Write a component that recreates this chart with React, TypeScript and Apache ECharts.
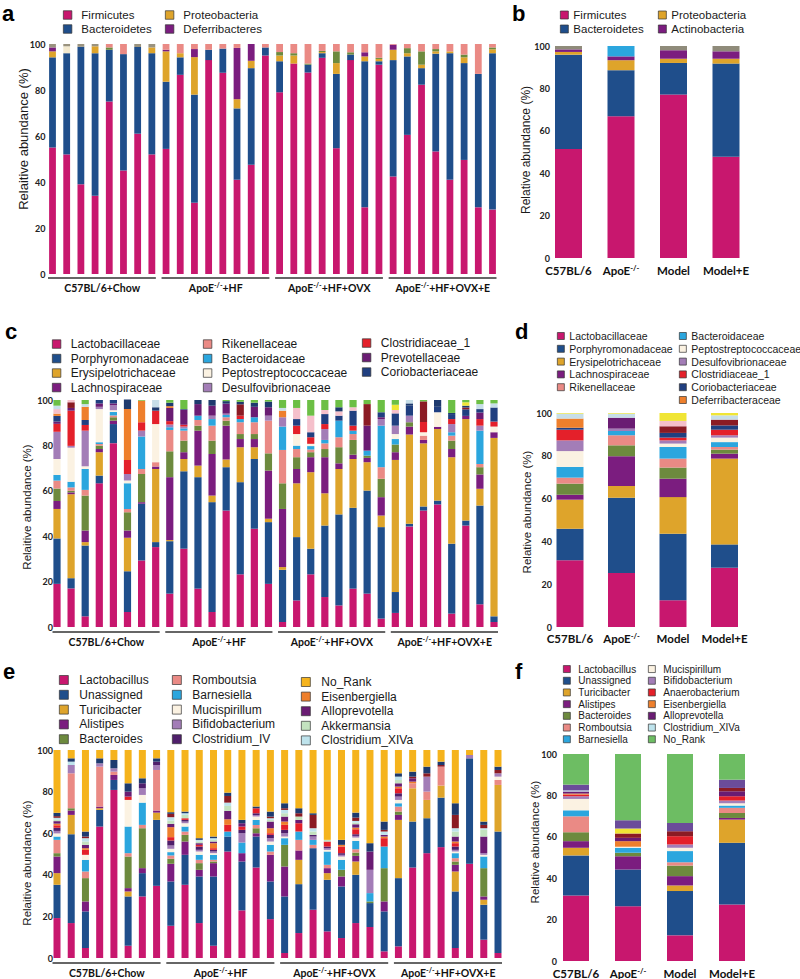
import { useEffect, useRef } from 'react';
import * as echarts from 'echarts';

// ---------- categories ----------
const GROUPS = ['C57BL/6+Chow', 'ApoE-/-+HF', 'ApoE-/-+HF+OVX', 'ApoE-/-+HF+OVX+E'];
const SAMPLES = [
  'C1', 'C2', 'C3', 'C4', 'C5', 'C6', 'C7', 'C8',
  'H1', 'H2', 'H3', 'H4', 'H5', 'H6', 'H7', 'H8',
  'O1', 'O2', 'O3', 'O4', 'O5', 'O6', 'O7', 'O8',
  'E1', 'E2', 'E3', 'E4', 'E5', 'E6', 'E7', 'E8',
];
const TREAT = ['C57BL/6', 'ApoE-/-', 'Model', 'Model+E'];

// ---------- panel a: phylum, per sample ----------
const phylumA = ['Firmicutes', 'Bacteroidetes', 'Proteobacteria', 'Deferribacteres', 'a_olive', 'a_salmon', 'a_beige', 'a_gray'];
const aChow = [
  [55, 39.2, 2.6, 1.7, 0, 0, 0, 1.5],
  [52, 44, 0, 0, 0, 0, 3, 1],
  [39, 59.8, 0, 0, 0, 0, 0, 1.2],
  [34, 62, 3, 0, 0, 0, 0, 1],
  [75, 22.5, 0, 0, 1, 1.5, 0, 0],
  [45, 50.6, 0, 0, 0, 4.4, 0, 0],
  [61, 37.7, 0, 0, 0, 0, 0, 1.3],
  [52, 44, 2.5, 0, 0, 0, 0, 1.5],
];
const aHF = [
  [54.4, 29.2, 13.2, 0.7, 0, 2.5, 0, 0],
  [86.6, 7.6, 1.8, 0, 0, 4, 0, 0],
  [31, 47, 16.3, 3.5, 0, 2.2, 0, 0],
  [93, 4.5, 0, 0, 0, 2.5, 0, 0],
  [87.5, 10.5, 0, 0, 0, 2, 0, 0],
  [41, 31, 4, 22.3, 0, 1.7, 0, 0],
  [47.5, 42, 3.2, 7.3, 0, 0, 0, 0],
  [95, 3.5, 0, 0, 0, 1.5, 0, 0],
];
const aOVX = [
  [79, 13.5, 2.5, 0, 1.5, 3.5, 0, 0],
  [91.5, 0, 3.5, 0, 1, 4, 0, 0],
  [87.6, 3.4, 0, 0, 0.5, 8.5, 0, 0],
  [94, 2, 0.5, 0, 0.5, 3, 0, 0],
  [54.7, 32.3, 4.7, 0, 5.1, 3.2, 0, 0],
  [93, 2.4, 0, 0, 1, 3.6, 0, 0],
  [29, 63.5, 2.1, 1.8, 0, 3.6, 0, 0],
  [91, 1.5, 1, 0, 0.5, 6, 0, 0],
];
const aOVXE = [
  [42.4, 50.6, 4.5, 2.2, 0, 0.3, 0, 0],
  [60.5, 34.1, 1.4, 0, 2.2, 1.8, 0, 0],
  [82.3, 7.2, 1.5, 0, 5.8, 3.2, 0, 0],
  [53.3, 42.5, 1, 0, 1, 2.2, 0, 0],
  [41, 55, 0.8, 0, 0, 3.2, 0, 0],
  [49.6, 42.1, 2.5, 0, 1.2, 4.6, 0, 0],
  [29, 58, 0, 0, 0, 13, 0, 0],
  [28, 68, 1.7, 0, 0.8, 1.5, 0, 0],
];

// ---------- panel b: phylum, per treatment ----------
const phylumB = ['Firmicutes', 'Bacteroidetes', 'Proteobacteria', 'Actinobacteria', 'b_lightblue', 'b_gray'];
const bRows = [
  [51.4, 44.5, 1.3, 1.2, 0, 1.6],
  [66.9, 21.7, 4.7, 1.8, 4.9, 0],
  [77.1, 14.9, 2, 4, 0, 2],
  [47.8, 43.9, 2.3, 3.5, 0, 2.5],
];

// ---------- panel c/d: family ----------
const famNames = [
  'Lactobacillaceae', 'Porphyromonadaceae', 'Erysipelotrichaceae', 'Lachnospiraceae', 'f_olive',
  'Rikenellaceae', 'Bacteroidaceae', 'Peptostreptococcaceae', 'Desulfovibrionaceae', 'Clostridiaceae_1',
  'Prevotellaceae', 'Coriobacteriaceae', 'Deferribacteraceae', 'f_darkred', 'f_pink',
  'f_navy', 'f_lightgray', 'f_yellow', 'f_green',
];
const cChow = [
  [19, 20, 13, 3.5, 5.5, 3.5, 2.5, 7, 12, 3.5, 1, 2.5, 1, 0, 2, 0, 1.5, 0, 2.5],
  [17, 4.5, 37, 0.8, 0.7, 1.5, 2.5, 15, 0.8, 15.5, 1.2, 0, 0, 2.5, 1, 0, 0, 0, 0],
  [4.7, 31.2, 1.5, 5.1, 15.4, 2.5, 9.2, 1.2, 15.7, 2.5, 0, 2.2, 5.8, 0, 0, 0, 1.2, 0, 1.8],
  [63.3, 3.4, 10.3, 1.4, 1.5, 0.7, 0.8, 14.6, 1, 0, 1.5, 1.5, 0, 0, 0, 0, 0, 0, 0],
  [81, 8.4, 0, 1.5, 1.5, 0.8, 1.5, 0.8, 2.2, 0, 0.8, 1.5, 0, 0, 0, 0, 0, 0, 0],
  [6.6, 18, 14.7, 3.2, 8.1, 1.4, 11.3, 1.2, 2.9, 6.2, 0, 0, 22.4, 0, 0, 4.2, 0, 0, 0],
  [29.3, 25, 0, 0.7, 12.4, 2.2, 14.3, 0, 2.6, 3.7, 0, 0, 9.5, 0, 0, 0, 0, 0, 0.3],
  [35.2, 2.2, 32.2, 1.1, 0, 1.9, 0, 16.8, 0, 5.9, 0, 0, 0, 0, 0, 1.5, 3.2, 0, 0],
];
const cHF = [
  [14.7, 23.1, 0.5, 27.7, 11.4, 9.4, 1.2, 0, 1.2, 1.5, 5.8, 0, 0.8, 0, 0, 1.5, 0, 0, 1.2],
  [34.5, 34.1, 5.4, 3, 5.1, 4.4, 1, 0, 0.8, 0.8, 6.6, 0, 0, 0, 0, 0.3, 0, 0, 4],
  [16.9, 49.1, 5.1, 15.4, 2.2, 2.5, 1.9, 0, 0, 0, 5.1, 0, 0, 0, 0, 1.8, 0, 0, 0],
  [6.6, 48.4, 2.9, 18.3, 5.9, 6.6, 2.9, 0, 1.5, 0, 4.4, 0, 0, 0, 0, 2.5, 0, 0, 0],
  [51.3, 19.1, 3.4, 14.9, 2.2, 1.5, 1, 0, 0.6, 0, 4.4, 0, 0, 0, 0, 1.1, 0, 0, 0.5],
  [23.2, 40.6, 15.4, 3.6, 2.2, 5.2, 1.4, 0, 0, 1.5, 0, 0, 0, 5, 0, 1.1, 0, 0, 0.8],
  [43.3, 30.7, 5.2, 3.6, 2.2, 5.2, 2.2, 0, 0, 0, 4.6, 0, 0, 0, 0, 1.8, 0, 0, 1.2],
  [19, 27.2, 1.5, 21.2, 7.6, 14.4, 0, 0, 2.2, 0, 3.7, 0, 0, 0, 0, 2.5, 0, 0, 0.7],
];
const cOVX = [
  [2.2, 23, 1.2, 25.6, 11.3, 14.7, 10.3, 0, 4.1, 0, 0, 0, 2.9, 0, 0, 0, 1.2, 0, 3.5],
  [11.7, 27.9, 23.7, 6.3, 5.2, 3.6, 1.5, 5.1, 0, 3.7, 0, 2.9, 0, 0, 4.9, 0, 0, 0, 3.5],
  [23.2, 11.3, 33.7, 6.6, 2.2, 1.2, 1.5, 1, 0, 2.9, 0, 2.2, 0, 0, 7.3, 0, 0, 0, 6.9],
  [13.2, 31.5, 14.2, 15.9, 3.6, 2.5, 1.5, 0, 4.8, 2.2, 0, 4.4, 0, 0, 1.8, 0, 0, 0, 4.4],
  [9.5, 40.1, 20, 2.5, 7.1, 4.4, 7.3, 0, 0, 0, 0, 2.2, 0, 0, 1.9, 1.8, 0, 0, 3.2],
  [16.9, 35.6, 21.5, 1.9, 6.5, 2.6, 1.5, 0, 0, 2.2, 0, 6.6, 0, 0, 1.5, 0, 0, 0, 3.2],
  [14.7, 45.4, 12.5, 1.9, 1, 0, 2.2, 0, 0, 0, 11, 0, 0, 9.5, 0, 0, 0, 0, 1.8],
  [3.7, 40.3, 5.1, 8.1, 8.1, 5.1, 18.3, 0, 2.9, 0, 0.8, 2.2, 0, 0, 0, 0, 0, 0, 5.4],
];
const cOVXE = [
  [6.2, 9.2, 58.2, 3.4, 3.4, 0, 2.4, 2.2, 3.7, 0, 0, 5.4, 0, 0, 1.5, 0, 0, 2.3, 2.1],
  [44.3, 1.2, 39.3, 3.5, 1.9, 0, 0, 0, 2.9, 0, 0, 4.4, 0, 0, 0, 1, 1.5, 0, 0],
  [51.3, 1.8, 27.8, 1.5, 0, 1.9, 0, 1.5, 0, 4.5, 0, 0, 0, 9.1, 0, 0, 0, 0, 0.6],
  [54, 1.7, 31.5, 1, 0, 0, 0, 6.4, 0, 0, 0, 2.4, 0, 0, 0, 3, 0, 0, 0],
  [5.9, 30.8, 38.1, 3.6, 3.7, 2.2, 1.5, 0, 3.6, 2.2, 0, 2.2, 0, 0, 0, 0.5, 0, 0, 5.7],
  [44.7, 2.2, 44.7, 1.4, 0, 0, 0, 0, 0, 0, 0, 2.9, 0, 0.8, 0, 0.8, 0, 1.5, 1],
  [10, 43.5, 7.4, 6.3, 3.2, 1.4, 14.7, 0, 2.2, 2.9, 2.9, 1.5, 0, 0, 0, 0, 2.2, 0, 1.8],
  [2.2, 2.5, 78.6, 2.5, 0, 0, 0, 2.5, 0, 2.2, 0, 6.2, 0, 0, 0, 0, 1.8, 0, 1.5],
];
const dRows = [
  [31.2, 14.7, 13.6, 2.3, 5.2, 2.8, 5, 7.4, 5, 5, 0, 0.9, 4.3, 0, 0, 0, 2.3, 0.3, 0],
  [25.2, 35.2, 5.5, 13.9, 5.1, 4.7, 2, 0, 1.1, 0, 5.1, 0, 0, 0, 0, 0, 1.9, 0.3, 0],
  [12.5, 31.1, 17.1, 8.6, 5.2, 4.2, 5.4, 1.6, 1.5, 1.3, 0, 2.2, 0, 3.1, 2.5, 0, 0, 3.7, 0],
  [27.7, 10.9, 40.1, 2.3, 1.9, 1.2, 2.3, 2.1, 1.1, 2.6, 0, 2, 0, 2.7, 0, 0, 2, 1.1, 0],
];

// ---------- panel e: genus, per sample ----------
const genusE = [
  'Lactobacillus', 'Unassigned', 'Turicibacter', 'Alistipes', 'Bacteroides', 'Romboutsia',
  'Barnesiella', 'Mucispirillum', 'Bifidobacterium', 'Clostridium_IV', 'e_anaero', 'Eisenbergiella',
  'Alloprevotella', 'Akkermansia', 'Clostridium_XIVa', 'e_darkred', 'e_navy', 'No_Rank',
];
const eChow = [
  [19.2, 16, 5.6, 8, 1.6, 6.4, 1.6, 1.5, 1.2, 1.5, 1.2, 0.8, 1.2, 0.8, 0.8, 0.8, 1.6, 30.2],
  [16.8, 42.7, 9.3, 2.1, 1.1, 16.8, 0, 0, 4, 0, 0, 0, 0, 0, 1.6, 0, 1.6, 4],
  [4.8, 17.6, 0, 4.8, 11.2, 3.2, 5.6, 2.4, 0, 0, 2.4, 0.8, 1.6, 1.6, 1.6, 0.8, 2.4, 39.2],
  [63.2, 8, 0.8, 0.8, 0, 19.2, 0, 0, 1.6, 0, 0, 0, 0, 0, 0, 0, 2.4, 4],
  [80.8, 4.8, 0, 2.4, 0, 1.6, 0, 0, 1.6, 0, 0, 0, 0, 0, 0, 0, 4, 4.8],
  [5.9, 23.7, 2.4, 1.6, 15.2, 1.6, 12.8, 12.8, 0, 0, 1.6, 0, 2.4, 0, 0, 0, 4, 16],
  [29.6, 11.2, 0, 2.4, 19.2, 1.6, 10.7, 3.7, 3.2, 2.4, 0, 0, 0, 0, 0, 0, 2.4, 13.6],
  [34.7, 31.7, 3.5, 1, 0, 19.5, 0, 0, 2.4, 1.6, 0, 0, 0, 0, 0, 0, 1.6, 4],
];
const eHF = [
  [15.5, 21.3, 0, 8.5, 2.4, 1.6, 1.6, 1.6, 1.6, 2.4, 1.6, 4.8, 1.6, 1.6, 1.6, 1.6, 0.8, 29.9],
  [35.2, 14.4, 0, 6.4, 3.2, 1.6, 2.4, 1.6, 0.8, 0.8, 0.8, 0, 0, 1.6, 0.8, 0, 0.8, 29.6],
  [16.8, 22.4, 0, 3.2, 3.2, 1.6, 2.4, 1.6, 0.8, 1.6, 0.8, 0, 0.8, 0.8, 0.8, 0, 0.8, 42.4],
  [5.9, 33.3, 0, 6.4, 0.8, 0.8, 2.4, 0.8, 0.8, 0.8, 0.8, 2.4, 0.8, 0.8, 0.8, 0, 0.8, 41.6],
  [51.2, 7.2, 0, 0, 0, 0, 2.4, 0, 0, 0, 3.2, 2.7, 4, 2.4, 1.6, 3.2, 1.6, 20.5],
  [22.9, 23.5, 0, 4, 0, 0, 5.1, 0, 4.5, 1.6, 1.6, 0, 1.6, 0, 0, 0, 1.6, 33.6],
  [43.5, 14.9, 0, 1.6, 2.4, 1.6, 2.4, 1.6, 0.8, 0.8, 2.4, 0, 0, 0, 0, 0, 0.8, 27.2],
  [18.7, 18.1, 0, 12.8, 0, 1.6, 3.2, 1.6, 1.6, 1.6, 0.8, 2.4, 3.2, 0.8, 0.8, 0.8, 2.4, 29.6],
];
const eOVX = [
  [2.4, 27.2, 0, 14.4, 10.4, 0, 3.2, 0.8, 1.6, 1.6, 2.4, 1.6, 2.4, 1.6, 1.6, 0.8, 2.4, 25.6],
  [12, 23.5, 11.7, 4.5, 0, 5.1, 4, 0, 0, 0, 4, 0, 1.6, 1.6, 0, 1.6, 2.4, 28],
  [23.2, 29.6, 0, 0, 0, 1.6, 2.4, 0, 1.6, 0.8, 0, 0, 0, 1.6, 1.6, 6.4, 0.8, 30.4],
  [12.8, 24.8, 3.2, 2.4, 0, 1.6, 6.4, 0.8, 0.8, 0.8, 2.4, 0, 0, 0.8, 0, 0, 0, 43.2],
  [9.6, 24.8, 0, 4.8, 3.2, 0, 4.8, 1.6, 0.8, 0.8, 3.2, 0.8, 0, 0, 0, 0, 2.4, 43.2],
  [16.8, 23.2, 6.4, 2.7, 1.6, 1.6, 4, 1.6, 0.8, 0.8, 2.4, 0.8, 1.6, 0.8, 0.8, 1.6, 2.4, 30.1],
  [14.9, 11.5, 0, 0, 0.8, 0, 4, 0, 11.2, 0, 0, 0, 8.8, 0, 0, 0, 4, 44.8],
  [3.2, 19.2, 0, 4.8, 16, 0, 10.4, 0, 0, 0, 4, 0.8, 0.8, 0, 1.6, 0.8, 4, 34.4],
];
const eOVXE = [
  [5.6, 32.8, 28, 2.4, 1.6, 2.4, 1.6, 1.6, 1.6, 1.6, 2.4, 0.8, 1.6, 1.6, 1.6, 0, 1.6, 11.2],
  [43.5, 22.1, 16, 0, 0, 2.4, 0, 0, 0, 0, 0, 0.8, 1.6, 0, 0, 0.8, 2.4, 10.4],
  [50.4, 16.8, 8.8, 0, 0, 4, 0, 0, 7.2, 0, 0, 0, 0, 0, 0, 1.6, 3.2, 8],
  [53.3, 23.8, 5.8, 0, 0, 9.1, 0, 0, 0, 0, 0, 0, 0, 0, 0, 0.8, 1.6, 5.6],
  [4.8, 27.2, 9.6, 3.2, 1.6, 1.6, 2.4, 0.8, 0.8, 1.6, 1.6, 0.8, 2.4, 2.4, 1.6, 6.4, 5.6, 25.6],
  [45.3, 50.7, 0, 0, 0, 0, 0, 0, 1.6, 0, 0, 0, 0, 0, 0, 0, 0, 2.4],
  [8.8, 16.8, 2.4, 1.6, 13.6, 0, 5.6, 0.8, 0.8, 0, 0, 0, 8, 3.2, 0.8, 1.6, 1.6, 34.4],
  [2.4, 58.4, 22.4, 0, 0, 2.4, 0, 1.6, 1.6, 0, 0, 0, 0, 0, 0, 1.6, 1.6, 8],
];

// ---------- panel f: genus, per treatment ----------
const genusF = [
  'Lactobacillus', 'Unassigned', 'Turicibacter', 'Alistipes', 'Bacteroides', 'Romboutsia',
  'Barnesiella', 'Mucispirillum', 'Bifidobacterium', 'Anaerobacterium', 'Eisenbergiella', 'Alloprevotella',
  'Clostridium_XIVa', 'g_darkred', 'g_navy', 'g_yellow', 'g_purple', 'No_Rank',
];
const fRows = [
  [31.7, 19.3, 3.7, 3.2, 4.3, 7.7, 2.9, 5.5, 1.3, 0.8, 0.5, 1, 0.5, 0, 0, 0, 2.8, 14.8],
  [26.5, 17.7, 0, 6.4, 1.7, 0, 2.4, 0.5, 0, 0, 2.7, 1.6, 0, 2.1, 0, 2.4, 4, 32],
  [12.4, 21.4, 2.7, 4.5, 5.1, 1.6, 5.4, 1.6, 1.6, 4, 0, 0, 0, 2.4, 0, 0, 4, 33.3],
  [27.3, 29.8, 11.2, 0.8, 2.4, 2.5, 1.1, 1.1, 1.3, 2.1, 0, 2.4, 0, 1.6, 0, 0, 4, 12.4],
];

// ---------- styles ----------
const colA = ['#C8176E', '#1F4E8B', '#DEA42B', '#7B1D7F', '#6D8A3E', '#EA8A85', '#F3E9CF', '#9A937F'];
const colB = ['#C8176E', '#1F4E8B', '#DEA42B', '#7B1D7F', '#2BA6DE', '#8F8B7A'];
const colFam = ['#C8176E', '#1F4E8B', '#DEA42B', '#7B1D7F', '#6D8A3E', '#EA8A85', '#2BA6DE', '#FBF2E2', '#A37DB7', '#E4202A',
  '#6A1C73', '#203F80', '#EE7F2C', '#8B1B24', '#F5C0CB', '#1E3A6E', '#C7DEE8', '#F0E535', '#6CBF45'];
const colE = ['#C8176E', '#1F4E8B', '#DEA42B', '#7B1D7F', '#6D8A3E', '#EA8A85', '#2BA6DE', '#FBF2E2', '#A37DB7', '#4F1F6B',
  '#E4202A', '#EE7F2C', '#6A1C73', '#C3E2BF', '#BEE3EC', '#8B1B24', '#1E3A6E', '#F5B31C'];
const colF = ['#C8176E', '#1F4E8B', '#DEA42B', '#7B1D7F', '#6D8A3E', '#EA8A85', '#2BA6DE', '#FBF2E2', '#A37DB7', '#E4202A',
  '#EE7F2C', '#6A1C73', '#BEE3EC', '#8B1B24', '#1E3A6E', '#F0E535', '#6B4C9A', '#6DBD63'];

const SANS = 'Liberation Sans, Arial, sans-serif';
const CAL = 'Lato, sans-serif';

const sup = (s: string) => s.replace('-/-', '{s|-/-}');

function stackSeries(stack: string, names: string[], colors: string[], rows: number[][], idx: number, barWidth: number) {
  return names.map((n, j) => ({
    type: 'bar',
    name: n,
    stack,
    xAxisIndex: idx,
    yAxisIndex: idx,
    barWidth,
    clip: false,
    silent: true,
    itemStyle: { color: colors[j] },
    data: rows.map((r) => r[j]),
  }));
}

function legendCol(list: string[], allNames: string[], colors: string[], left: number, top: number,
  fontSize: number, lineHeight: number, icon: number, pad: number) {
  return {
    orient: 'vertical',
    left,
    top,
    padding: 0,
    itemGap: 0,
    itemWidth: icon,
    itemHeight: icon,
    icon: 'rect',
    selectedMode: false,
    itemStyle: { borderColor: '#333', borderWidth: 0.7 },
    textStyle: { fontFamily: SANS, fontSize, lineHeight, color: '#1a1a1a', padding: [0, 0, 0, pad] },
    data: list.map((n) => ({ name: n, itemStyle: { color: colors[allNames.indexOf(n)] } })),
  };
}

function yAx(gi: number, margin: number) {
  return {
    type: 'value', gridIndex: gi, min: 0, max: 100, interval: 20,
    axisLine: { show: false }, axisTick: { show: false }, splitLine: { show: false },
    axisLabel: { fontFamily: CAL, fontWeight: 'bold', fontSize: 9, color: '#222', margin },
  };
}
function xSamples(gi: number) {
  return {
    type: 'category', gridIndex: gi, data: SAMPLES, boundaryGap: false,
    axisLine: { show: false }, axisTick: { show: false }, axisLabel: { show: false },
  };
}
function xTreat(gi: number, margin: number) {
  return {
    type: 'category', gridIndex: gi, data: TREAT, boundaryGap: false,
    axisLine: { show: false }, axisTick: { show: false },
    axisLabel: {
      interval: 0, hideOverlap: false,
      fontFamily: CAL, fontWeight: 'bold', fontSize: 11.5, color: '#111', margin,
      formatter: (v: string) => sup(v),
      rich: { s: { fontFamily: CAL, fontWeight: 'bold', fontSize: 7.5, color: '#111', verticalAlign: 'top', lineHeight: 8 } },
    },
  };
}

export default function App() {
  const ref = useRef<HTMLDivElement>(null);
  useEffect(() => {
    if (!ref.current) return;
    const chart = echarts.init(ref.current, null, { renderer: 'svg' });
    const aRows = [...aChow, ...aHF, ...aOVX, ...aOVXE];
    const cRows = [...cChow, ...cHF, ...cOVX, ...cOVXE];
    const eRows = [...eChow, ...eHF, ...eOVX, ...eOVXE];
    const option: any = {
      animation: false,
      backgroundColor: '#fff',
      textStyle: { fontFamily: SANS },
      grid: [
        { left: 52.5, top: 44, width: 440, height: 230 },
        { left: 568.5, top: 46, width: 157.5, height: 212 },
        { left: 57, top: 400, width: 437, height: 227 },
        { left: 570, top: 413, width: 154.5, height: 214 },
        { left: 57, top: 750, width: 441, height: 208 },
        { left: 576, top: 754, width: 156, height: 208 },
      ],
      xAxis: [xSamples(0), xTreat(1, 6), xSamples(2), xTreat(3, 5.5), xSamples(4), xTreat(5, 6)],
      yAxis: [yAx(0, 7), yAx(1, 18.5), yAx(2, 4), yAx(3, 18), yAx(4, 4), yAx(5, 19)],
      legend: [
        legendCol(['Firmicutes', 'Bacteroidetes'], phylumA, colA, 63, 8, 11.5, 14, 8.5, 4.5),
        legendCol(['Proteobacteria', 'Deferribacteres'], phylumA, colA, 165, 8, 11.5, 14, 8.5, 4.5),
        legendCol(['Firmicutes', 'Bacteroidetes'], phylumB, colB, 560, 8, 11.5, 14, 8, 0),
        legendCol(['Proteobacteria', 'Actinobacteria'], phylumB, colB, 658, 8, 11.5, 14, 8, 0),
        legendCol(['Lactobacillaceae', 'Porphyromonadaceae', 'Erysipelotrichaceae', 'Lachnospiraceae'], famNames, colFam, 52, 336.8, 12, 14.5, 8.5, 5),
        legendCol(['Rikenellaceae', 'Bacteroidaceae', 'Peptostreptococcaceae', 'Desulfovibrionaceae'], famNames, colFam, 203, 336.8, 12, 14.5, 8.5, 5),
        legendCol(['Clostridiaceae_1', 'Prevotellaceae', 'Coriobacteriaceae'], famNames, colFam, 362, 335.8, 12, 14.5, 8.5, 5),
        legendCol(['Lactobacillaceae', 'Porphyromonadaceae', 'Erysipelotrichaceae', 'Lachnospiraceae', 'Rikenellaceae'], famNames, colFam, 557, 329.6, 10.5, 12.8, 7, 0),
        legendCol(['Bacteroidaceae', 'Peptostreptococcaceae', 'Desulfovibrionaceae', 'Clostridiaceae_1', 'Coriobacteriaceae', 'Deferribacteraceae'], famNames, colFam, 679, 329.6, 10.5, 12.8, 7, 0),
        legendCol(['Lactobacillus', 'Unassigned', 'Turicibacter', 'Alistipes', 'Bacteroides'], genusE, colE, 59, 672.6, 12, 14.8, 9, 6),
        legendCol(['Romboutsia', 'Barnesiella', 'Mucispirillum', 'Bifidobacterium', 'Clostridium_IV'], genusE, colE, 172, 672.6, 12, 14.8, 9, 6),
        legendCol(['No_Rank', 'Eisenbergiella', 'Alloprevotella', 'Akkermansia', 'Clostridium_XIVa'], genusE, colE, 301, 674.7, 12, 14.6, 9, 6),
        legendCol(['Lactobacillus', 'Unassigned', 'Turicibacter', 'Alistipes', 'Bacteroides', 'Romboutsia', 'Barnesiella'], genusF, colF, 563, 663.2, 10, 11.7, 7, 3),
        legendCol(['Mucispirillum', 'Bifidobacterium', 'Anaerobacterium', 'Eisenbergiella', 'Alloprevotella', 'Clostridium_XIVa', 'No_Rank'], genusF, colF, 648, 663.2, 10, 11.7, 7, 3),
      ],
      series: [
        ...stackSeries('a', phylumA, colA, aRows, 0, 6.8),
        ...stackSeries('b', phylumB, colB, bRows, 1, 27),
        ...stackSeries('c', famNames, colFam, cRows, 2, 7.2),
        ...stackSeries('d', famNames, colFam, dRows, 3, 27),
        ...stackSeries('e', genusE, colE, eRows, 4, 7),
        ...stackSeries('f', genusF, colF, fRows, 5, 26),
      ],
    };
    chart.setOption(option);

    const gfx: any[] = [];
    const letters = [
      ['a', 2, 13], ['b', 512, 13], ['c', 5, 331], ['d', 515, 331], ['e', 3, 671], ['f', 515, 671],
    ];
    letters.forEach(([t, x, y]) => {
      gfx.push({
        type: 'text', x, y, silent: true,
        style: { text: t, fontFamily: SANS, fontWeight: 'bold', fontSize: 22, fill: '#000', align: 'left', verticalAlign: 'middle' },
      });
    });
    const titles = [
      ['Relaitive abundance (%)', 23, 139, 13],
      ['Relative abundance (%)', 526, 150, 12],
      ['Relaitive abundance (%)', 27, 507, 11.5],
      ['Relative abundance (%)', 527, 512, 11.5],
      ['Relaitive abundance (%)', 27, 863, 11.5],
      ['Relative abundance (%)', 535, 842, 11.5],
    ];
    titles.forEach(([t, x, y, fs]) => {
      gfx.push({
        type: 'text', x, y, rotation: Math.PI / 2, silent: true,
        style: { text: t, fontFamily: SANS, fontSize: fs, fill: '#1a1a1a', align: 'center', verticalAlign: 'middle' },
      });
    });
    const under = [
      { xi: 0, y: 278, ly: 288 },
      { xi: 2, y: 632, ly: 642 },
      { xi: 4, y: 963, ly: 973 },
    ];
    under.forEach((p) => {
      GROUPS.forEach((g, gi) => {
        const x0 = chart.convertToPixel({ xAxisIndex: p.xi } as any, SAMPLES[gi * 8]) as number;
        const x1 = chart.convertToPixel({ xAxisIndex: p.xi } as any, SAMPLES[gi * 8 + 7]) as number;
        gfx.push({
          type: 'line', silent: true,
          shape: { x1: x0 - 4.5, y1: p.y, x2: x1 + 4, y2: p.y },
          style: { stroke: '#333', lineWidth: 1.4 },
        });
        gfx.push({
          type: 'text', x: (x0 + x1) / 2, y: p.ly, silent: true,
          style: {
            text: sup(g), fontFamily: CAL, fontWeight: 'bold', fontSize: 10.5, lineHeight: 13, fill: '#111',
            align: 'center', verticalAlign: 'middle',
            rich: { s: { fontFamily: CAL, fontWeight: 'bold', fontSize: 7, lineHeight: 7, fill: '#111', verticalAlign: 'top' } },
          },
        });
      });
    });
    chart.setOption({ graphic: gfx });
    return () => chart.dispose();
  }, []);
  return <div ref={ref} style={{ position: 'absolute', left: 0, top: 0, width: 800, height: 979, background: '#fff' }} />;
}
